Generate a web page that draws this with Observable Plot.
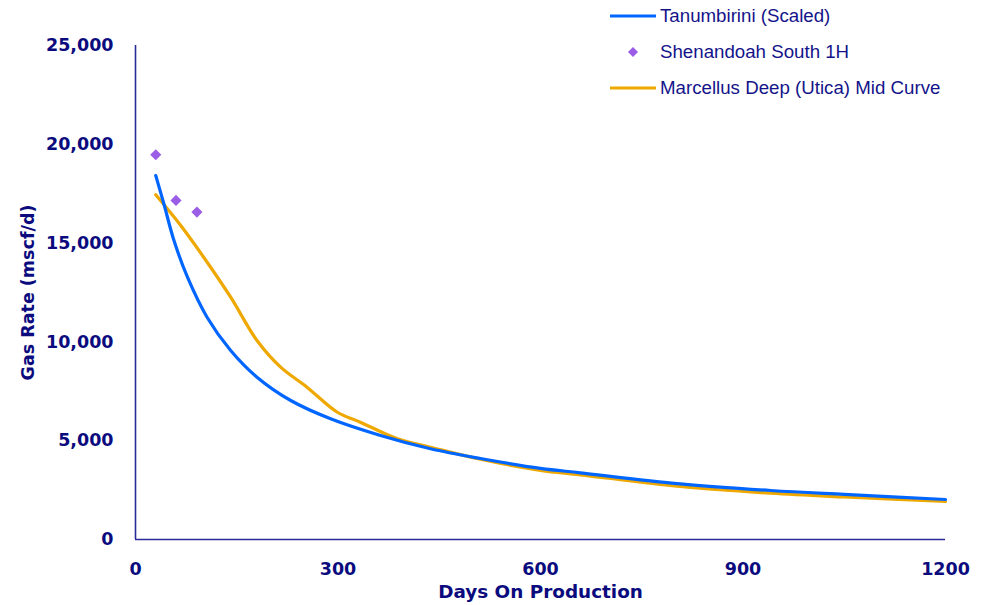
<!DOCTYPE html>
<html>
<head>
<meta charset="utf-8">
<script src="https://cdn.jsdelivr.net/npm/d3@7"></script>
<script src="https://cdn.jsdelivr.net/npm/@observablehq/plot@0.6"></script>
<style>
  html, body { margin: 0; padding: 0; background: #fff; }
  #wrap { position: relative; width: 988px; height: 605px; }
  #legend { position: absolute; left: 609px; top: -2px; font-family: "Liberation Sans", Arial, sans-serif; font-size: 18.7px; color: #14148a; }
  #legend .row { display: flex; align-items: center; height: 36px; }
  #legend svg { width: 48px; height: 12px; margin-right: 3px; }
</style>
</head>
<body>
<div id="wrap"><div id="legend"></div></div>
<script>
const xTicks = [0, 300, 600, 900, 1200];
const yTicks = [0, 5000, 10000, 15000, 20000, 25000];

const tanDays = [30, 42, 57, 77, 106, 141, 180, 230, 289, 363, 437, 511, 600, 659, 807, 941, 1050, 1200];
const tanRate = [18420, 16990, 15130, 13275, 11250, 9565, 8214, 7034, 6108, 5263, 4590, 4100, 3600, 3375, 2818, 2480, 2280, 2024];

const shenDays = [30, 60, 91];
const shenRate = [19470, 17160, 16570];

const utDays = [30, 67, 101, 141, 180, 215, 254, 299, 333, 388, 437, 511, 600, 659, 807, 941, 1050, 1200];
const utRate = [17444, 15890, 14286, 12262, 10070, 8720, 7710, 6440, 5936, 5096, 4672, 4060, 3500, 3274, 2682, 2343, 2150, 1923];

const seriesNames = ["Tanumbirini (Scaled)", "Shenandoah South 1H", "Marcellus Deep (Utica) Mid Curve"];
const colors = ["#0066ff", "#9b5de5", "#eea800"];

const tan = tanDays.map((d, i) => ({day: d, rate: tanRate[i]}));
const shen = shenDays.map((d, i) => ({day: d, rate: shenRate[i]}));
const ut = utDays.map((d, i) => ({day: d, rate: utRate[i]}));

const navy = "#0b0b7e";

const chart = Plot.plot({
  width: 988,
  height: 605,
  marginLeft: 135,
  marginRight: 43,
  marginTop: 45,
  marginBottom: 66,
  style: {fontFamily: "DejaVu Sans", color: navy, background: "white"},
  x: {domain: [0, 1200]},
  y: {domain: [0, 25000]},
  marks: [
    Plot.axisX({ticks: xTicks, tickFormat: d => String(d), tickSize: 0, tickPadding: 23, fontSize: 17.5, fontWeight: "bold", label: null}),
    Plot.axisY({ticks: yTicks, tickFormat: d3.format(","), tickSize: 0, tickPadding: 22, fontSize: 17.5, fontWeight: "bold", label: null}),
    Plot.text(["Days On Production"], {frameAnchor: "bottom", dy: 58, fontSize: 18.4, fontWeight: "bold", fill: navy}),
    Plot.text(["Gas Rate (mscf/d)"], {frameAnchor: "left", textAnchor: "middle", rotate: -90, dx: -107, fontSize: 17.5, fontWeight: "bold", fill: navy}),
    Plot.ruleX([0], {stroke: "#2b2b9c", strokeWidth: 1.6}),
    Plot.ruleY([0], {stroke: "#2b2b9c", strokeWidth: 1.6}),
    Plot.line(ut, {x: "day", y: "rate", stroke: colors[2], strokeWidth: 3.2, curve: "catmull-rom"}),
    Plot.line(tan, {x: "day", y: "rate", stroke: colors[0], strokeWidth: 3.2, curve: "catmull-rom"}),
    Plot.dot(shen, {x: "day", y: "rate", symbol: "diamond2", fill: colors[1], stroke: "none", r: 5})
  ]
});
const wrap = document.getElementById("wrap");
wrap.insertBefore(chart, wrap.firstChild);

const legend = document.getElementById("legend");
const kinds = ["line", "dot", "line"];
seriesNames.forEach((name, i) => {
  const row = document.createElement("div");
  row.className = "row";
  const sym = kinds[i] === "line"
    ? `<svg viewBox="0 0 48 12"><line x1="1" y1="6" x2="47" y2="6" stroke="${colors[i]}" stroke-width="3"/></svg>`
    : `<svg viewBox="0 0 48 12"><path d="M24,1 L29,6 L24,11 L19,6 Z" fill="${colors[i]}"/></svg>`;
  row.innerHTML = sym + `<span>${name}</span>`;
  legend.appendChild(row);
});
</script>
</body>
</html>
